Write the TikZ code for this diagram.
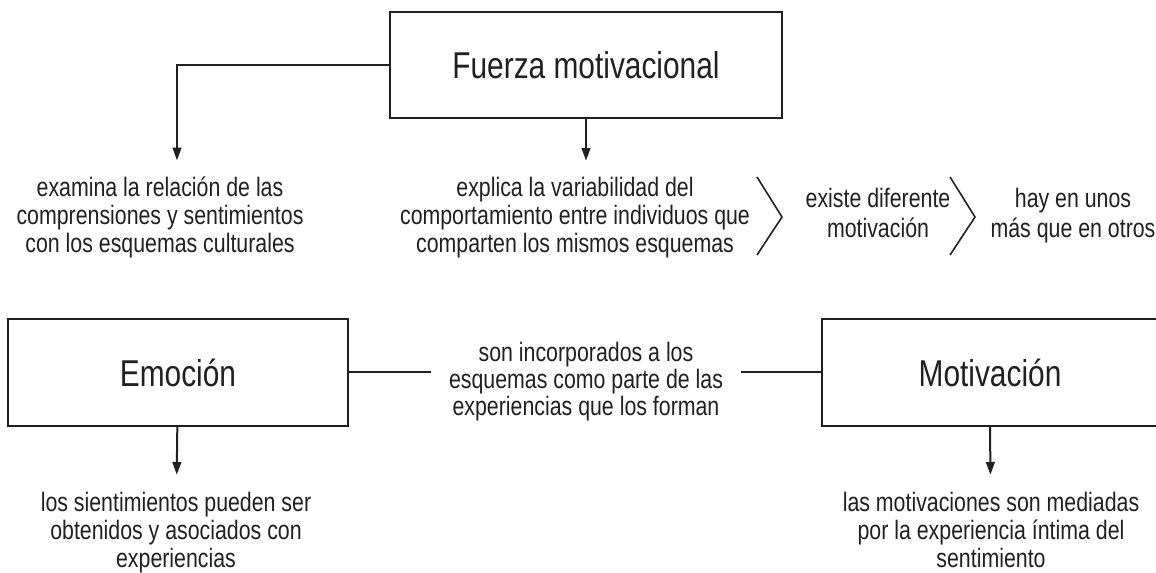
\documentclass[tikz,border=0pt]{standalone}
\usepackage{fontspec}
\setmainfont{Liberation Sans}[FakeStretch=0.8]
\usetikzlibrary{arrows.meta, positioning}

\definecolor{ink}{HTML}{231F20}

\begin{document}
\begin{tikzpicture}[x=0.75pt, y=-0.75pt, ink, line width=1.5pt]
    % settings for this picture (base = baseline of the last line)
    \tikzset{
      >={Triangle[length=9.5pt, width=6.5pt]},
      box/.style={draw, line width=1.5pt, inner sep=0pt,
                  font=\fontsize{28}{32}\selectfont},
      title/.style={inner sep=0pt, font=\fontsize{28}{32}\selectfont},
      note/.style={align=center, anchor=base, inner xsep=0pt, inner ysep=12pt,
                   font=\fontsize{20}{21}\selectfont},
      link/.style={align=center, anchor=base, inner xsep=13pt, inner ysep=0pt,
                   font=\fontsize{20}{20.25}\selectfont},
      chevron/.style={line width=1.2pt, line join=miter},
    }
    \useasboundingbox (0,0) rectangle (1156,573);
    \clip (0,0) rectangle (1156,573);

    % boxes
    \node[box, minimum width=294pt, minimum height=79.5pt] (fuerza) at (586,65) {Fuerza motivacional};
    \node[box, minimum width=255pt, minimum height=80pt] (emocion) at (178,372.5) {Emoción};
    \node[box, minimum width=284pt, minimum height=80pt] (motivacion) at (1011,372.5) {};
    \node[title] (motivtext) at (990,372.5) {Motivación};

    % texts
    \node[note] (examina) at (160,253) {examina la relación de las\\comprensiones y sentimientos\\con los esquemas culturales};
    \node[note] (explica) at (575,253) {explica la variabilidad del\\comportamiento entre individuos que\\comparten los mismos esquemas};
    \node[note, font=\fontsize{20}{22.5}\selectfont] (existe) at (878,238) {existe diferente\\motivación};
    \node[note, font=\fontsize{20}{22.5}\selectfont] (hay) at (1073,238) {hay en unos\\más que en otros};
    \node[link] (incorporados) at (586,416) {son incorporados a los\\esquemas como parte de las\\experiencias que los forman};
    \node[note] (sentimientos) at (176,567) {los sientimientos pueden ser\\obtenidos y asociados con\\experiencias};
    \node[note] (mediadas) at (991,567) {las motivaciones son mediadas\\por la experiencia íntima del\\sentimiento};

    % chevrons between the texts
    \draw[chevron] (757,177) -- (782,217) -- (757,255);
    \draw[chevron] (950,177) -- (975,217) -- (950,255);

    % arrows
    \draw[->] (fuerza.west) -| ([xshift=12.75pt]examina.north);
    \draw[->] (fuerza.south) -- (fuerza.south |- explica.north);
    \draw (emocion.east) -- (incorporados.west |- emocion.east);
    \draw (incorporados.east |- motivacion.west) -- (motivacion.west);
    \draw[->] (emocion) -- (sentimientos);
    \draw[->] (motivtext |- motivacion.south) -- (mediadas);
\end{tikzpicture}
\end{document}
